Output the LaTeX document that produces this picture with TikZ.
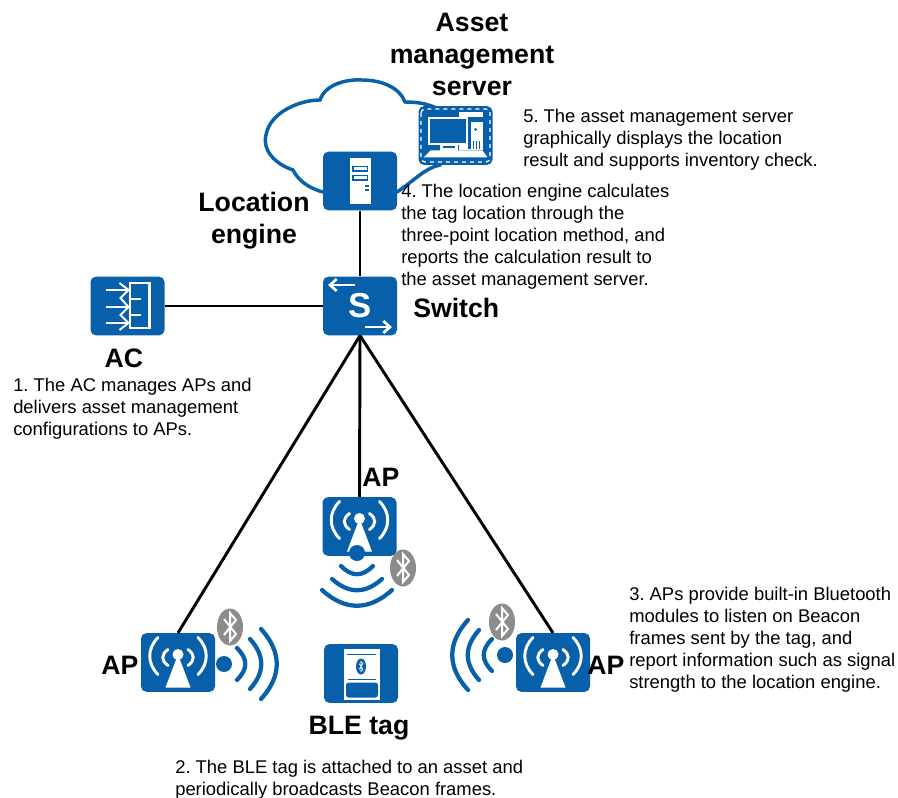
\documentclass[tikz,border=0pt]{standalone}
\usepackage{fontspec}
\setmainfont{Liberation Sans}
\usepackage{tikz}
\usetikzlibrary{positioning}
\usetikzlibrary{arrows.meta}

\definecolor{iconblue}{RGB}{8,96,170}
\definecolor{badgegray}{RGB}{140,140,140}

\tikzset{
	iconbox/.style={draw=none, fill=iconblue, rounded corners=4, minimum width=55.5pt, minimum height=44pt, inner sep=0pt},
	link/.style={line width=2.2pt, black},
	title/.style={font=\fontsize{20}{24}\selectfont\bfseries, align=center, inner sep=0pt},
	note/.style={font=\fontsize{13.8}{16.5}\selectfont\frenchspacing, align=left, inner sep=0pt, anchor=north west},
	glyph/.style={draw=white, line width=2.2pt, line cap=round, fill=none},
	wave/.style={draw=iconblue, line width=3.2pt, line cap=round},
	apicon/.pic={
		\fill[white] (0,-8) -- (-12.5,25) -- (12.5,25) -- cycle;
		\fill[white] (0,-8) circle[radius=5.5];
		\foreach \s in {-1,1}{
			\draw[glyph] (\s*10,-13) .. controls (\s*17,-8) and (\s*17,-2) .. (\s*10,3);
			\draw[glyph] (\s*20,-25) .. controls (\s*31,-14) and (\s*31,1) .. (\s*20,12);
		}
	},
	blepulse/.pic={
		\fill[iconblue] (0,0) circle[radius=8];
		\draw[wave] (13,-16) .. controls (24,-5) and (24,5) .. (13,16);
		\draw[wave] (26,-25) .. controls (41,-8) and (41,8) .. (26,25);
		\draw[wave] (37,-35) .. controls (58,-12) and (58,12) .. (37,35);
	},
	btbadge/.pic={
		\fill[badgegray] (0,0) ellipse[x radius=13, y radius=18.5];
		\draw[white, line width=1.5pt] (-6,-8) -- (6,7) -- (0,14) -- (0,-14) -- (6,-7) -- (-6,8);
	}
}

\begin{document}
\begin{tikzpicture}[x=0.75pt, y=-0.75pt]
	\useasboundingbox (0,0) rectangle (898,798);

	% cloud behind the engine and the server
	\draw[iconblue, line width=2.6pt, fill=white] (323,192) .. controls (308,188) and (298,180) .. (293,170)
		.. controls (275,164) and (262,150) .. (266,135) .. controls (270,112) and (300,100) .. (320,100)
		.. controls (325,85) and (345,79) .. (362,80) .. controls (382,80) and (400,88) .. (405,102)
		.. controls (418,102) and (430,104) .. (440,110) -- (440,165)
		.. controls (425,168) and (415,180) .. (397,192) -- cycle;

	\node[iconbox] (engine) at (360,181) {};
	\node[iconbox] (server) at (455.5,135.5) {};
	\node[iconbox] (switch) at (360,306) {};
	\node[iconbox] (ac) at (127.5,306) {};
	\node[iconbox] (apmid) at (359.5,526.5) {};
	\node[iconbox] (apleft) at (178,662.5) {};
	\node[iconbox] (apright) at (553,662.5) {};
	\node[iconbox] (tag) at (361,673.5) {};

	\draw[link] (engine) -- (switch);
	\draw[link] (ac) -- (switch);
	\draw[link] (switch.south) -- (apmid.north);
	\draw[link] (switch.south) -- (apleft.north);
	\draw[link] (switch.south) -- (apright.north);

	% server glyph
	\draw[white, line width=1pt, dashed, rounded corners=3] (421,109) rectangle (490,162);
	\begin{scope}[shift={(server.center)}]
		\fill[white] (3,-23) rectangle (27,15);
		\fill[iconblue] (5,-18) rectangle (27,-13);
		\fill[iconblue] (20,-6) circle[radius=1.5];
		\foreach \xx in {14,17,20,23}
			\fill[iconblue] (\xx,6) rectangle ++(1.5,8);
		\fill[iconblue] (12,-18) rectangle (15,14);
		\fill[white] (-28,-18) rectangle (12,10);
		\fill[iconblue] (-26,-16) rectangle (10,8);
		\fill[white] (-25,15) -- (27,15) -- (32,22) -- (-32,22) -- cycle;
		\fill[white] (-16,10) rectangle (2,16);
		\fill[iconblue] (-13,11) rectangle (-1,13);
	\end{scope}

	% engine glyph
	\begin{scope}[shift={(engine.center)}]
		\fill[white] (-10,-23) rectangle (11,23);
		\fill[iconblue] (-8,-15) rectangle (8,-9);
		\fill[iconblue] (-8,-6) rectangle (8,0);
		\fill[white] (-6.5,-13.5) rectangle (6.5,-10.5);
		\fill[white] (-6.5,-4.5) rectangle (6.5,-1.5);
		\fill[iconblue] (5,4) rectangle (9,6);
		\fill[iconblue] (5,8) rectangle (9,10);
	\end{scope}

	% switch glyph
	\node[white, font=\fontsize{26}{26}\selectfont\bfseries] (switchmark) at (switch.center) {S};
	\draw[white, line width=2pt, -{Straight Barb[length=5pt,width=9pt]}] (355,285) -- (328,285);
	\draw[white, line width=2pt, -{Straight Barb[length=5pt,width=9pt]}] (365,327) -- (392,327);

	% ac glyph
	\begin{scope}[shift={(ac.center)}]
		\draw[white, line width=1.7pt] (2.5,-23) rectangle (22,22);
		\foreach \yy in {-16,1,17}
			\draw[white, line width=1.7pt] (-22,\yy) -- (2.5,\yy);
		\draw[white, line width=1.5pt] (-8,-23) -- (1,-16) -- (-7,-8) -- (1,1) -- (-7,9) -- (1,17) -- (-8,24);
		\draw[white, line width=1.5pt] (2.5,-7.5) -- (13,-7.5) (2.5,9) -- (13,9);
	\end{scope}

	\pic at (apmid.center) {apicon};
	\pic at (apleft.center) {apicon};
	\pic at (apright.center) {apicon};

	\pic[rotate=-90] at (357,553) {blepulse};
	\pic at (224,664) {blepulse};
	\pic[rotate=180] at (505,655) {blepulse};

	\pic at (403,568) {btbadge};
	\pic at (230,627) {btbadge};
	\pic at (502,622) {btbadge};

	% tag glyph
	\begin{scope}[shift={(tag.center)}]
		\fill[white] (-17,-25) rectangle (19,26);
		\draw[iconblue, line width=0.9pt] (-14,-19) -- (15,-19);
		\fill[iconblue] (0,-7) ellipse[x radius=5, y radius=8];
		\draw[white, line width=0.5pt] (-2,-10) -- (2,-4) -- (0,-2) -- (0,-12) -- (2,-10) -- (-2,-4);
		\fill[iconblue, rounded corners=2] (-15,9) rectangle (17,24);
		\draw[iconblue, line width=0.7pt] (-13,6) -- (15,6);
	\end{scope}

	\node[title] (servername) at (472,54) {Asset\\management\\server};
	\node[title] (enginename) at (254,221) {Location\\engine};
	\node[title, anchor=west] (switchname) at (413,308) {Switch};
	\node[title] (acname) at (124,358) {AC};
	\node[title] (apmidname) at (381,477) {AP};
	\node[title] (apleftname) at (120,665) {AP};
	\node[title] (aprightname) at (606,665) {AP};
	\node[title] (tagname) at (359,728) {BLE tag};

	\node[note] (notefive) at (523,109) {5. The asset management server\\graphically displays the location\\result and supports inventory check.};
	\node[note] (notefour) at (401,184) {4. The location engine calculates\\the tag location through the\\three-point location method, and\\reports the calculation result to\\the asset management server.};
	\node[note] (noteone) at (13,378) {1. The AC manages APs and\\delivers asset management\\configurations to APs.};
	\node[note] (notethree) at (629,587) {3. APs provide built-in Bluetooth\\modules to listen on Beacon\\frames sent by the tag, and\\report information such as signal\\strength to the location engine.};
	\node[note] (notetwo) at (175,760) {2. The BLE tag is attached to an asset and\\periodically broadcasts Beacon frames.};
\end{tikzpicture}
\end{document}
